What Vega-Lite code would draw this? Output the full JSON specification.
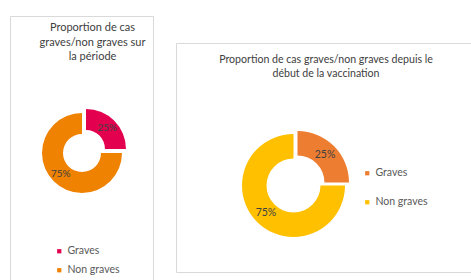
{
  "$schema": "https://vega.github.io/schema/vega-lite/v6.json",
  "background": "white",
  "padding": {"left": 9, "top": 15, "right": 0, "bottom": 0},
  "spacing": 21,
  "config": {
    "view": {"stroke": "#d9d9d9", "strokeWidth": 1},
    "font": "Lato",
    "title": {"font": "Lato", "fontWeight": "normal", "color": "#404040", "fontSize": 10.6, "anchor": "middle", "frame": "group"},
    "legend": {"labelFont": "Lato", "labelColor": "#595959", "labelFontSize": 10.5, "symbolType": "square", "symbolSize": 18, "title": null, "labelOffset": 3}
  },
  "datasets": {
    "periode": [{"cat": "Graves", "pct": 0.25}, {"cat": "Non graves", "pct": 0.75}],
    "vaccination": [{"cat": "Graves", "pct": 0.25}, {"cat": "Non graves", "pct": 0.75}]
  },
  "resolve": {"scale": {"color": "independent"}, "legend": {"color": "independent"}},
  "hconcat": [
    {
      "width": 143,
      "height": 274,
      "view": {"stroke": "#d9d9d9", "strokeWidth": 1},
      "data": {"name": "periode"},
      "title": {"text": ["Proportion de cas", "graves/non graves sur", "la période"], "offset": -46, "dx": 11, "lineHeight": 14.5, "fontSize": 11},
      "encoding": {
        "x": {"value": 72},
        "y": {"value": 137},
        "theta": {"field": "pct", "type": "quantitative", "stack": true},
        "color": {
          "field": "cat", "type": "nominal",
          "scale": {"domain": ["Graves", "Non graves"], "range": ["#E2004F", "#EF8200"]},
          "legend": {"orient": "none", "legendX": 44, "legendY": 230, "rowPadding": 8}
        }
      },
      "layer": [
        {"mark": {"type": "arc", "outerRadius": 40, "innerRadius": 19},
         "encoding": {"opacity": {"condition": {"test": "datum.cat === 'Non graves'", "value": 1}, "value": 0}}},
        {"mark": {"type": "arc", "outerRadius": 40, "innerRadius": 19, "xOffset": 4, "yOffset": -4},
         "encoding": {"opacity": {"condition": {"test": "datum.cat === 'Graves'", "value": 1}, "value": 0}}},
        {"mark": {"type": "text", "radius": 30, "fontSize": 10},
         "encoding": {"text": {"field": "pct", "type": "quantitative", "format": ".0%"}, "color": {"value": "#404040"},
                      "opacity": {"condition": {"test": "datum.cat === 'Non graves'", "value": 1}, "value": 0}}},
        {"mark": {"type": "text", "radius": 30, "fontSize": 10, "xOffset": 4, "yOffset": -4},
         "encoding": {"text": {"field": "pct", "type": "quantitative", "format": ".0%"}, "color": {"value": "#404040"},
                      "opacity": {"condition": {"test": "datum.cat === 'Graves'", "value": 1}, "value": 0}}}
      ]
    },
    {
      "spacing": 0,
      "resolve": {"scale": {"color": "independent"}, "legend": {"color": "independent"}},
      "vconcat": [
        {
          "width": 300,
          "height": 26,
          "view": {"stroke": null},
          "data": {"values": [{}]},
          "mark": {"type": "text"},
          "encoding": {"text": {"value": ""}}
        },
        {
          "width": 300,
          "height": 229,
          "view": {"stroke": "#d9d9d9", "strokeWidth": 1},
          "data": {"name": "vaccination"},
          "title": {"text": ["Proportion de cas graves/non graves depuis le", "début de la vaccination"], "offset": -37, "lineHeight": 14},
          "encoding": {
            "x": {"value": 117.5},
            "y": {"value": 142.5},
            "theta": {"field": "pct", "type": "quantitative", "stack": true},
            "color": {
              "field": "cat", "type": "nominal",
              "scale": {"domain": ["Graves", "Non graves"], "range": ["#ED7D31", "#FFC000"]},
              "legend": {"orient": "none", "legendX": 186, "legendY": 125, "rowPadding": 18}
            }
          },
          "layer": [
            {"mark": {"type": "arc", "outerRadius": 51.5, "innerRadius": 27},
             "encoding": {"opacity": {"condition": {"test": "datum.cat === 'Non graves'", "value": 1}, "value": 0}}},
            {"mark": {"type": "arc", "outerRadius": 51.5, "innerRadius": 27, "xOffset": 4, "yOffset": -3},
             "encoding": {"opacity": {"condition": {"test": "datum.cat === 'Graves'", "value": 1}, "value": 0}}},
            {"mark": {"type": "text", "radius": 39, "fontSize": 10.5},
             "encoding": {"text": {"field": "pct", "type": "quantitative", "format": ".0%"}, "color": {"value": "#404040"},
                          "opacity": {"condition": {"test": "datum.cat === 'Non graves'", "value": 1}, "value": 0}}},
            {"mark": {"type": "text", "radius": 39, "fontSize": 10.5, "xOffset": 4, "yOffset": -3},
             "encoding": {"text": {"field": "pct", "type": "quantitative", "format": ".0%"}, "color": {"value": "#404040"},
                          "opacity": {"condition": {"test": "datum.cat === 'Graves'", "value": 1}, "value": 0}}}
          ]
        }
      ]
    }
  ]
}
